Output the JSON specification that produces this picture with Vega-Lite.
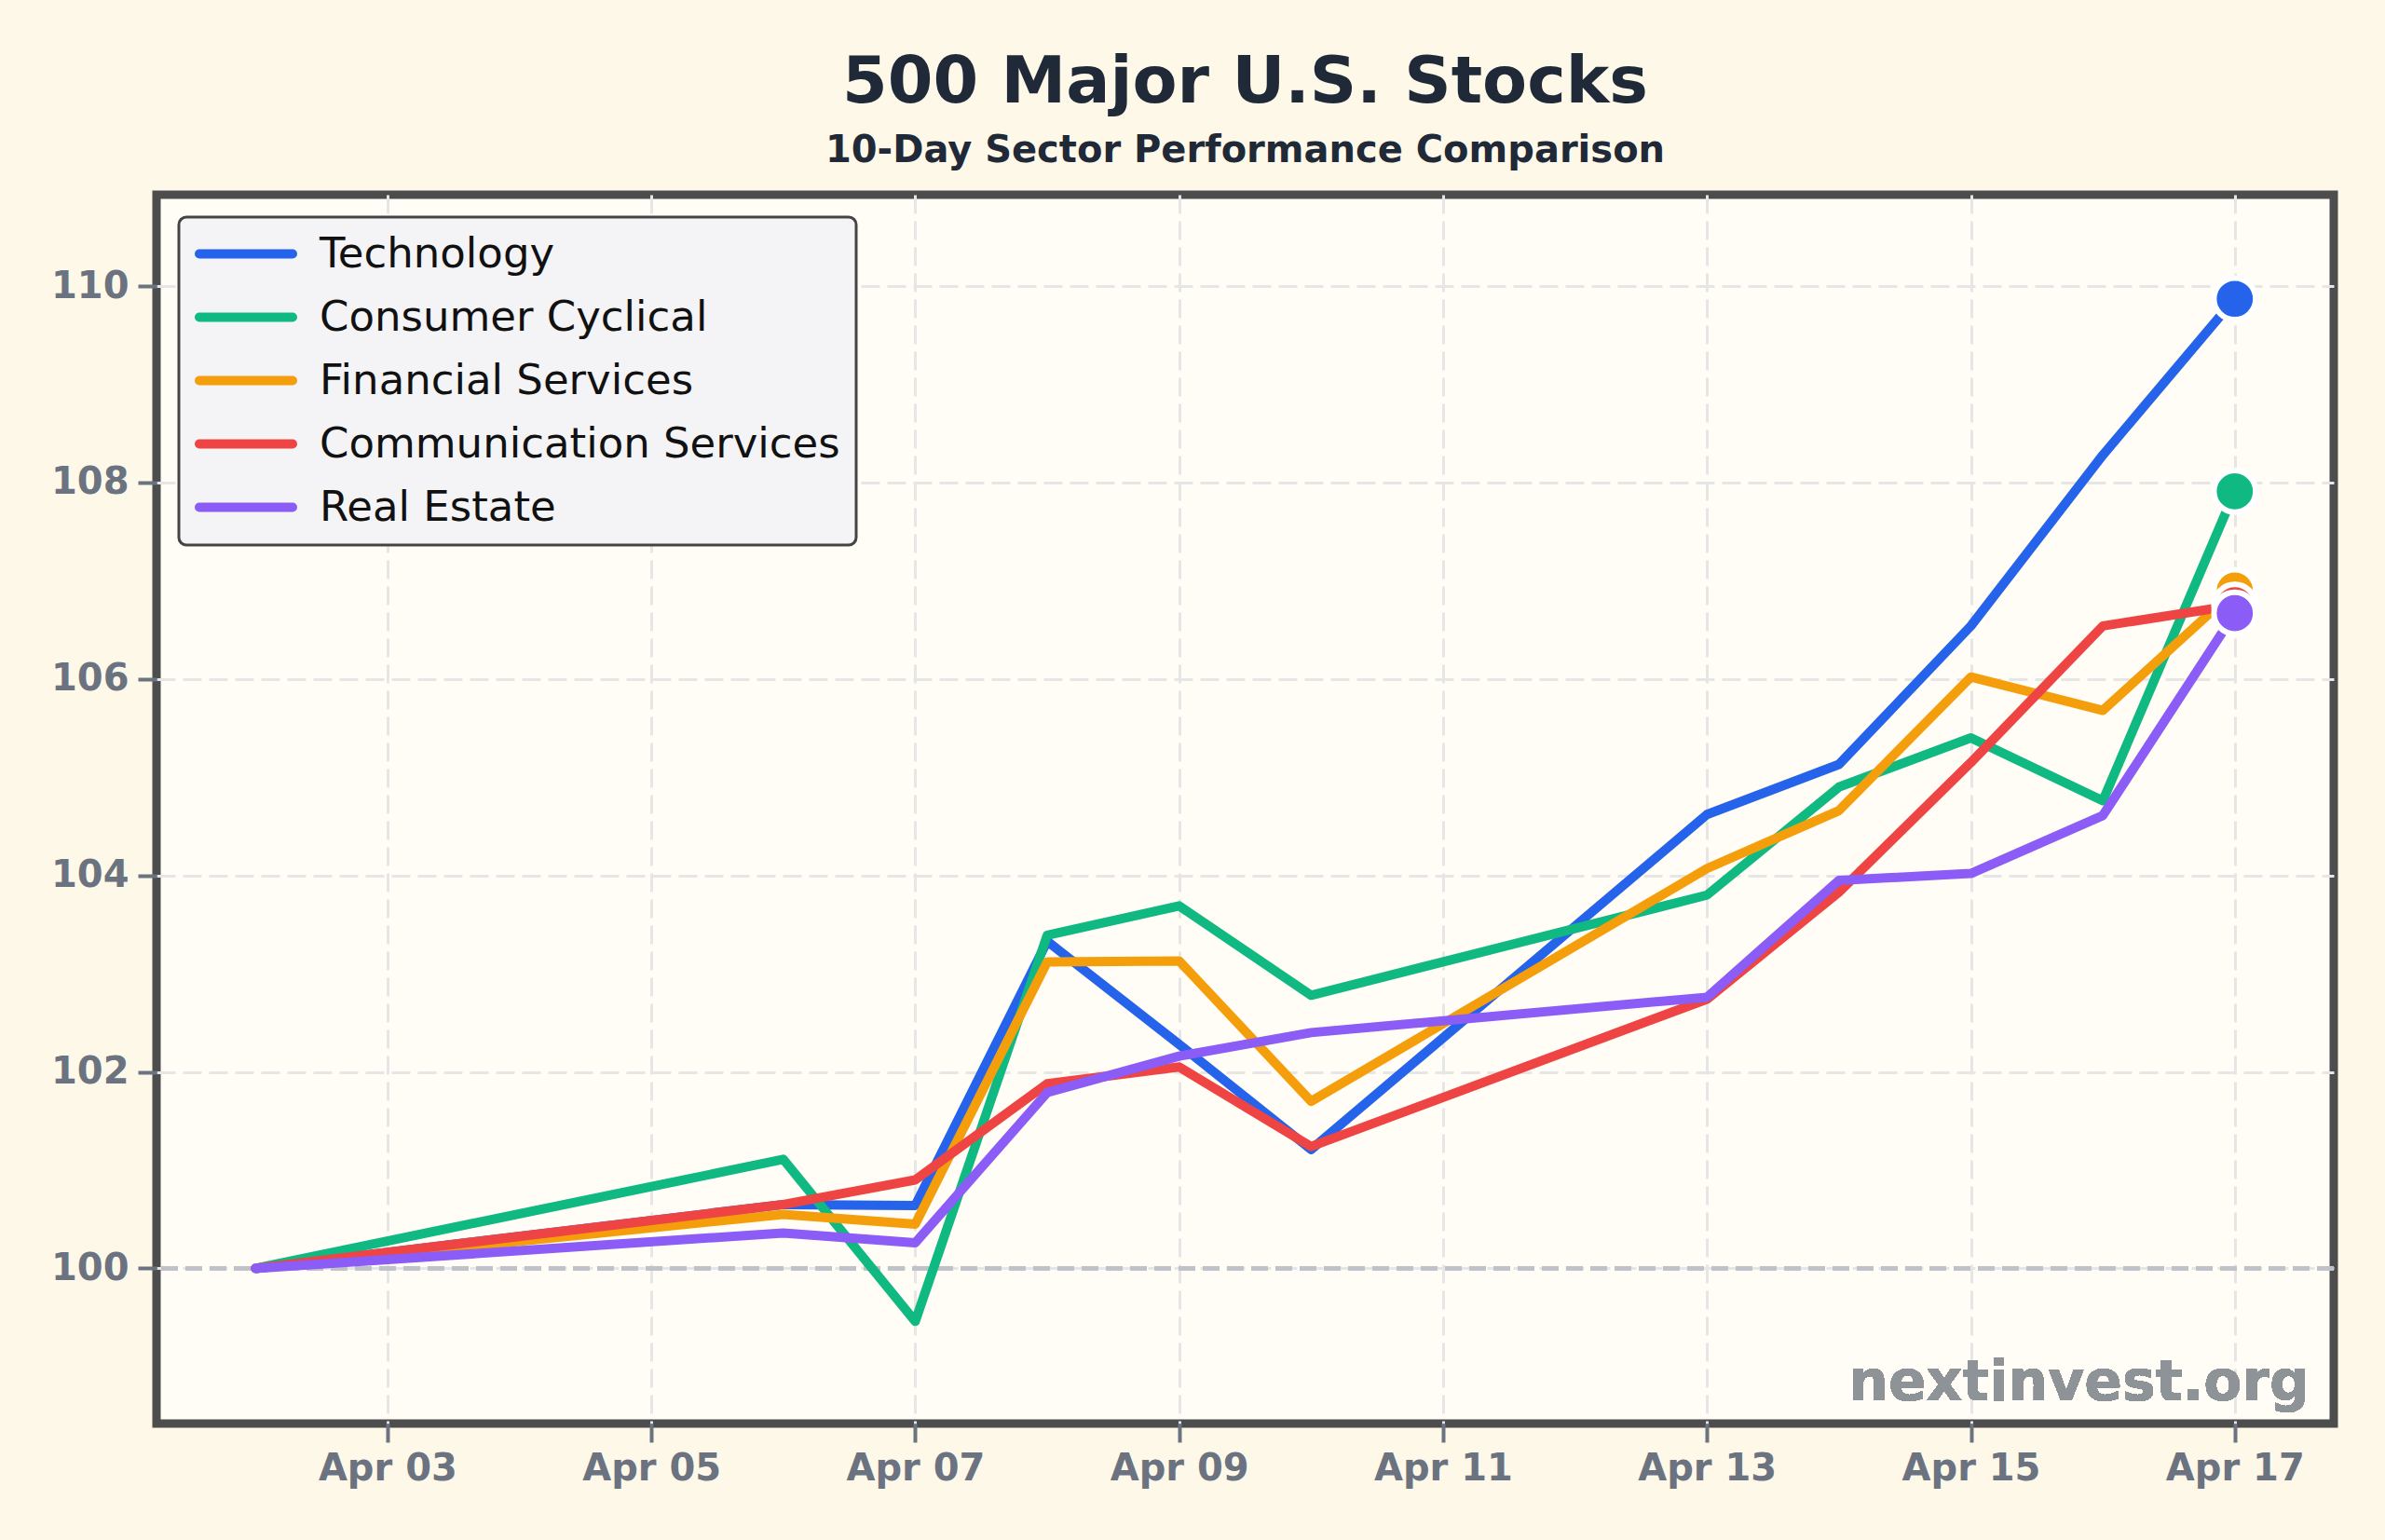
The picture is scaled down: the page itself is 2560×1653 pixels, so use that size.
{
  "$schema": "https://vega.github.io/schema/vega-lite/v6.json",
  "autosize": {"type": "none"},
  "width": 2337,
  "height": 1319,
  "padding": {"left": 168, "top": 209, "right": 55, "bottom": 125},
  "background": "#FEF8E8",
  "title": {
    "text": "500 Major U.S. Stocks",
    "subtitle": "10-Day Sector Performance Comparison",
    "font": "DejaVu Sans",
    "subtitleFont": "DejaVu Sans",
    "fontSize": 70,
    "subtitleFontSize": 40,
    "fontWeight": "bold",
    "subtitleFontWeight": "bold",
    "color": "#1F2937",
    "subtitleColor": "#1F2937",
    "anchor": "middle",
    "offset": 26,
    "subtitlePadding": 17
  },
  "data": {
    "values": [
      {"date": "2026-04-02", "sector": "Technology", "value": 100},
      {"date": "2026-04-06", "sector": "Technology", "value": 100.65},
      {"date": "2026-04-07", "sector": "Technology", "value": 100.64},
      {"date": "2026-04-08", "sector": "Technology", "value": 103.33},
      {"date": "2026-04-09", "sector": "Technology", "value": 102.28},
      {"date": "2026-04-10", "sector": "Technology", "value": 101.21},
      {"date": "2026-04-13", "sector": "Technology", "value": 104.62},
      {"date": "2026-04-14", "sector": "Technology", "value": 105.13},
      {"date": "2026-04-15", "sector": "Technology", "value": 106.54},
      {"date": "2026-04-16", "sector": "Technology", "value": 108.28},
      {"date": "2026-04-17", "sector": "Technology", "value": 109.87},
      {"date": "2026-04-02", "sector": "Consumer Cyclical", "value": 100},
      {"date": "2026-04-06", "sector": "Consumer Cyclical", "value": 101.11},
      {"date": "2026-04-07", "sector": "Consumer Cyclical", "value": 99.46},
      {"date": "2026-04-08", "sector": "Consumer Cyclical", "value": 103.39},
      {"date": "2026-04-09", "sector": "Consumer Cyclical", "value": 103.69},
      {"date": "2026-04-10", "sector": "Consumer Cyclical", "value": 102.78},
      {"date": "2026-04-13", "sector": "Consumer Cyclical", "value": 103.8},
      {"date": "2026-04-14", "sector": "Consumer Cyclical", "value": 104.9},
      {"date": "2026-04-15", "sector": "Consumer Cyclical", "value": 105.4},
      {"date": "2026-04-16", "sector": "Consumer Cyclical", "value": 104.76},
      {"date": "2026-04-17", "sector": "Consumer Cyclical", "value": 107.91},
      {"date": "2026-04-02", "sector": "Financial Services", "value": 100},
      {"date": "2026-04-06", "sector": "Financial Services", "value": 100.55},
      {"date": "2026-04-07", "sector": "Financial Services", "value": 100.45},
      {"date": "2026-04-08", "sector": "Financial Services", "value": 103.12},
      {"date": "2026-04-09", "sector": "Financial Services", "value": 103.13},
      {"date": "2026-04-10", "sector": "Financial Services", "value": 101.7},
      {"date": "2026-04-13", "sector": "Financial Services", "value": 104.07},
      {"date": "2026-04-14", "sector": "Financial Services", "value": 104.66},
      {"date": "2026-04-15", "sector": "Financial Services", "value": 106.02},
      {"date": "2026-04-16", "sector": "Financial Services", "value": 105.68},
      {"date": "2026-04-17", "sector": "Financial Services", "value": 106.9},
      {"date": "2026-04-02", "sector": "Communication Services", "value": 100},
      {"date": "2026-04-06", "sector": "Communication Services", "value": 100.65},
      {"date": "2026-04-07", "sector": "Communication Services", "value": 100.9},
      {"date": "2026-04-08", "sector": "Communication Services", "value": 101.88},
      {"date": "2026-04-09", "sector": "Communication Services", "value": 102.05},
      {"date": "2026-04-10", "sector": "Communication Services", "value": 101.24},
      {"date": "2026-04-13", "sector": "Communication Services", "value": 102.74},
      {"date": "2026-04-14", "sector": "Communication Services", "value": 103.83},
      {"date": "2026-04-15", "sector": "Communication Services", "value": 105.15},
      {"date": "2026-04-16", "sector": "Communication Services", "value": 106.54},
      {"date": "2026-04-17", "sector": "Communication Services", "value": 106.75},
      {"date": "2026-04-02", "sector": "Real Estate", "value": 100},
      {"date": "2026-04-06", "sector": "Real Estate", "value": 100.36},
      {"date": "2026-04-07", "sector": "Real Estate", "value": 100.26},
      {"date": "2026-04-08", "sector": "Real Estate", "value": 101.79},
      {"date": "2026-04-09", "sector": "Real Estate", "value": 102.16},
      {"date": "2026-04-10", "sector": "Real Estate", "value": 102.4},
      {"date": "2026-04-13", "sector": "Real Estate", "value": 102.76},
      {"date": "2026-04-14", "sector": "Real Estate", "value": 103.95},
      {"date": "2026-04-15", "sector": "Real Estate", "value": 104.02},
      {"date": "2026-04-16", "sector": "Real Estate", "value": 104.61},
      {"date": "2026-04-17", "sector": "Real Estate", "value": 106.67}
    ]
  },
  "encoding": {
    "x": {
      "field": "date",
      "type": "temporal",
      "scale": {
        "type": "utc",
        "domain": [
          {"year": 2026, "month": 4, "date": 1, "hours": 6, "utc": true},
          {"year": 2026, "month": 4, "date": 17, "hours": 18, "utc": true}
        ]
      },
      "axis": {
        "title": null,
        "values": [
          {"year": 2026, "month": 4, "date": 3, "utc": true},
          {"year": 2026, "month": 4, "date": 5, "utc": true},
          {"year": 2026, "month": 4, "date": 7, "utc": true},
          {"year": 2026, "month": 4, "date": 9, "utc": true},
          {"year": 2026, "month": 4, "date": 11, "utc": true},
          {"year": 2026, "month": 4, "date": 13, "utc": true},
          {"year": 2026, "month": 4, "date": 15, "utc": true},
          {"year": 2026, "month": 4, "date": 17, "utc": true}
        ],
        "labelExpr": "utcFormat(datum.value, '%b %d')",
        "labelFont": "DejaVu Sans",
        "labelFontWeight": "bold",
        "labelFontSize": 40,
        "labelColor": "#6B7280",
        "labelPadding": 8,
        "tickColor": "#6B7280",
        "tickWidth": 4,
        "tickSize": 20,
        "domain": false,
        "grid": true,
        "gridColor": "#E6E6E6",
        "gridDash": [20, 8],
        "gridWidth": 3
      }
    },
    "y": {
      "field": "value",
      "type": "quantitative",
      "scale": {"domain": [98.42, 110.93], "nice": false, "zero": false},
      "axis": {
        "title": null,
        "values": [100, 102, 104, 106, 108, 110],
        "format": "d",
        "labelFont": "DejaVu Sans",
        "labelFontWeight": "bold",
        "labelFontSize": 40,
        "labelColor": "#6B7280",
        "labelPadding": 10,
        "tickColor": "#6B7280",
        "tickWidth": 4,
        "tickSize": 20,
        "domain": false,
        "grid": true,
        "gridColor": "#E6E6E6",
        "gridDash": [20, 8],
        "gridWidth": 3
      }
    }
  },
  "layer": [
    {
      "mark": {"type": "rule", "color": "#BFC3C9", "strokeWidth": 4.5, "strokeDash": [18, 8]},
      "encoding": {"y": {"datum": 100}, "x": null}
    },
    {
      "mark": {"type": "line", "strokeWidth": 10, "strokeJoin": "round", "strokeCap": "round"},
      "encoding": {
        "color": {
          "field": "sector",
          "type": "nominal",
          "scale": {
            "domain": ["Technology", "Consumer Cyclical", "Financial Services", "Communication Services", "Real Estate"],
            "range": ["#2563EB", "#10B981", "#F59E0B", "#EF4444", "#8B5CF6"]
          },
          "legend": {
            "title": null,
            "orient": "top-left",
            "offset": 24,
            "symbolType": "stroke",
            "symbolSize": 10000,
            "symbolStrokeWidth": 10,
            "labelFont": "DejaVu Sans",
            "labelFontSize": 45,
            "labelColor": "#111111",
            "labelOffset": 24,
            "labelLimit": 1000,
            "clipHeight": 45,
            "rowPadding": 22,
            "padding": 17,
            "fillColor": "#F4F4F6",
            "strokeColor": "#444444",
            "cornerRadius": 8,
            "encode": {
              "legend": {"update": {"strokeWidth": {"value": 3}}},
              "symbols": {"update": {"strokeCap": {"value": "round"}}}
            }
          }
        }
      }
    },
    {
      "transform": [{"filter": "utcdate(datum.date) == 17"}],
      "mark": {"type": "point", "filled": true, "opacity": 1, "size": 2000, "stroke": "white", "strokeWidth": 6, "strokeOpacity": 1},
      "encoding": {
        "color": {"field": "sector", "type": "nominal", "legend": null}
      }
    },
    {
      "mark": {
        "type": "text",
        "text": "nextinvest.org",
        "font": "DejaVu Sans",
        "fontWeight": "bold",
        "fontSize": 60,
        "color": "#8E9398",
        "align": "right",
        "baseline": "alphabetic",
        "dx": -26,
        "dy": -25
      },
      "encoding": {"x": {"value": "width"}, "y": {"value": "height"}}
    }
  ],
  "config": {
    "view": {"stroke": "#4D4D4D", "strokeWidth": 9, "fill": "#FFFDF5"},
    "font": "DejaVu Sans"
  }
}
